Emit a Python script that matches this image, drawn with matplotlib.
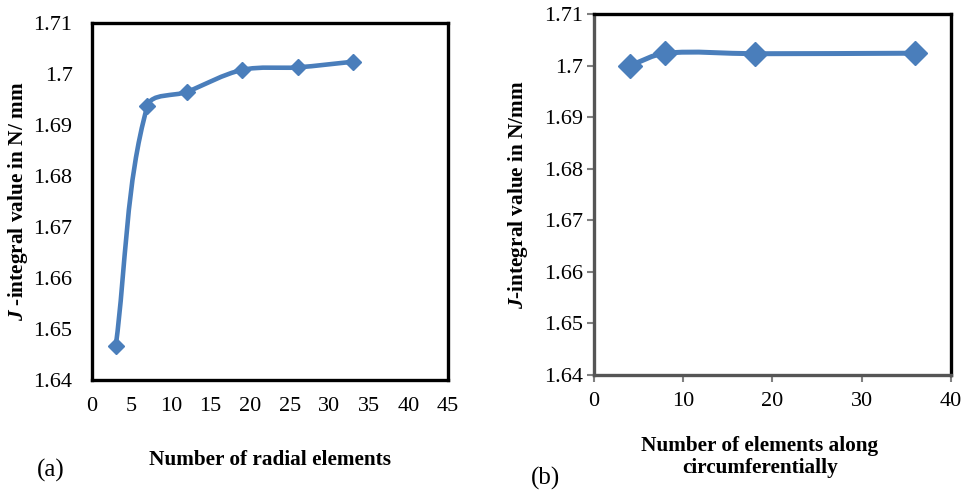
import matplotlib
matplotlib.use("Agg")
import matplotlib.pyplot as plt
import numpy as np
from matplotlib.path import Path
from matplotlib.patches import PathPatch

plt.rcParams['font.family'] = ['Liberation Serif', 'DejaVu Serif']
plt.rcParams['mathtext.fontset'] = 'custom'
plt.rcParams['mathtext.it'] = 'Liberation Serif:italic:bold'
plt.rcParams['mathtext.rm'] = 'Liberation Serif:bold'

# ---- data ----
radial_elements = [3, 7, 12, 19, 26, 33]
j_radial = [1.6466, 1.6937, 1.6965, 1.7008, 1.7013, 1.7024]

circ_elements = [4, 8, 18, 36]
j_circ = [1.7000, 1.7024, 1.7023, 1.7024]

y_ticks = [1.64, 1.65, 1.66, 1.67, 1.68, 1.69, 1.70, 1.71]
y_tick_labels = ['1.64', '1.65', '1.66', '1.67', '1.68', '1.69', '1.7', '1.71']
xa_ticks = [0, 5, 10, 15, 20, 25, 30, 35, 40, 45]
xb_ticks = [0, 10, 20, 30, 40]

BLUE = '#4A7EBB'
TICK_FS = 16
LABEL_FS = 15.3


def smooth_path(xs, ys, xr, yr):
    """Chord-length cardinal Bezier path through the data points (Excel-like smoothing),
    computed in axis-normalised units so both axes are treated alike."""
    P = np.column_stack([np.asarray(xs, float) / xr, np.asarray(ys, float) / yr])
    n = len(P)
    verts = [P[0]]
    codes = [Path.MOVETO]

    def tangent(i):
        a = P[i - 1] if i > 0 else P[i]
        b = P[i + 1] if i < n - 1 else P[i]
        d = b - a
        return d / np.linalg.norm(d)

    for i in range(n - 1):
        p1, p2 = P[i], P[i + 1]
        L = np.linalg.norm(p2 - p1)
        c1 = p1 + tangent(i) * L / 3.0
        c2 = p2 - tangent(i + 1) * L / 3.0
        verts += [c1, c2, p2]
        codes += [Path.CURVE4] * 3
    V = np.array(verts)
    V[:, 0] *= xr
    V[:, 1] *= yr
    return Path(V, codes)


fig = plt.figure(figsize=(9.65, 4.9), dpi=100)

# ---- panel (a) ----
ax1 = fig.add_axes([0.0953, 0.2245, 0.3689, 0.7286])
ax1.add_patch(PathPatch(smooth_path(radial_elements, j_radial, 45, 0.07), fill=False,
                        edgecolor=BLUE, lw=3.3, capstyle='round', joinstyle='round', zorder=3))
ax1.plot(radial_elements, j_radial, linestyle='none', marker='D', markersize=8,
         color=BLUE, zorder=4)
ax1.set_xlim(0, 45)
ax1.set_ylim(1.64, 1.71)
ax1.set_xticks(xa_ticks)
ax1.set_yticks(y_ticks)
ax1.set_yticklabels(y_tick_labels)
ax1.tick_params(axis='y', length=0, labelsize=TICK_FS, pad=14)
ax1.tick_params(axis='x', length=0, labelsize=TICK_FS, pad=12)
for s in ax1.spines.values():
    s.set_linewidth(2.4)
    s.set_color('black')
ax1.set_xlabel('Number of radial elements', fontsize=LABEL_FS, fontweight='bold')
ax1.xaxis.set_label_coords(0.5, -0.195)
ax1.set_ylabel(r'$J$ -integral value in N/ mm', fontsize=LABEL_FS, fontweight='bold')
ax1.yaxis.set_label_coords(-0.208, 0.5)
ax1.yaxis.label.set_va('center')
fig.text(51 / 965, 1 - 470 / 490, '(a)', fontsize=18, ha='center', va='center')

# ---- panel (b) ----
ax2 = fig.add_axes([0.6155, 0.2347, 0.3700, 0.7367])
ax2.add_patch(PathPatch(smooth_path(circ_elements, j_circ, 40, 0.07), fill=False,
                        edgecolor=BLUE, lw=3.6, capstyle='round', joinstyle='round', zorder=3))
ax2.plot(circ_elements, j_circ, linestyle='none', marker='D', markersize=12.5,
         color=BLUE, zorder=4, clip_on=False)
ax2.set_xlim(0, 40)
ax2.set_ylim(1.64, 1.71)
ax2.set_xticks(xb_ticks)
ax2.set_yticks(y_ticks)
ax2.set_yticklabels(y_tick_labels)
ax2.tick_params(direction='out', length=5, width=1.5, color='#808080', labelsize=TICK_FS)
ax2.tick_params(axis='y', pad=3)
ax2.tick_params(axis='x', pad=7)
for k in ['top', 'right']:
    ax2.spines[k].set_linewidth(2.4)
    ax2.spines[k].set_color('black')
for k in ['left', 'bottom']:
    ax2.spines[k].set_linewidth(2.4)
    ax2.spines[k].set_color('#555555')
ax2.set_xlabel('Number of elements along\ncircumferentially', fontsize=LABEL_FS,
               fontweight='bold', linespacing=1.15)
ax2.xaxis.set_label_coords(0.465, -0.168)
ax2.set_ylabel(r'$J$-integral value in N/mm', fontsize=LABEL_FS, fontweight='bold')
ax2.yaxis.set_label_coords(-0.213, 0.5)
ax2.yaxis.label.set_va('center')
fig.text(545 / 965, 1 - 478 / 490, '(b)', fontsize=18, ha='center', va='center')

fig.savefig('out.png', dpi=100)
